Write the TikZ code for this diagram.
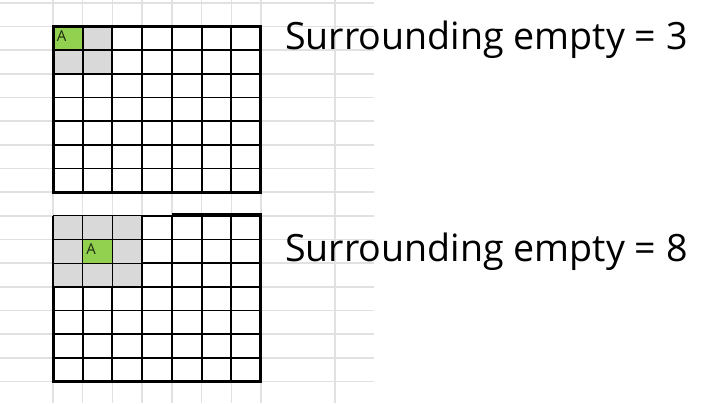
\documentclass[tikz,border=0pt]{standalone}
\usepackage{fontspec}
\setmainfont{Open Sans}
\usepackage{xcolor}
\usepackage{tikz}
\definecolor{sheetLine}{HTML}{E1E1E1}
\definecolor{greenFill}{HTML}{92D050}
\definecolor{grayFill}{HTML}{D9D9D9}
\definecolor{markTxt}{HTML}{1F2A10}
\tikzset{
  cell grid/.style={xstep=29.71pt, ystep=23.67pt},
  sheet line/.style={draw=sheetLine, line width=1.5pt},
  inner line/.style={cell grid, draw=black, line width=1.9pt},
  block line/.style={cell grid, draw=black, line width=1.2pt},
  outer line/.style={draw=black, line width=3pt, line join=miter},
  cell mark/.style={anchor=west, inner sep=0pt,
    text=markTxt, font=\fontsize{15}{15}\selectfont},
  count text/.style={anchor=base west, inner sep=0pt,
    font=\fontsize{37.6}{40}\selectfont},
}

\begin{document}
\begin{tikzpicture}[x=29.71pt, y=23.67pt]
    \useasboundingbox (-1.784,-0.908) rectangle (22.181,16.118);

    % Sheet background
    \draw[sheet line, xstep=1000pt, ystep=23.67pt] (-1.784,0) grid (10.80,16);
    \draw[sheet line, xstep=29.71pt, ystep=1000pt] (0,-0.908) grid (7,16.118);
    \draw[sheet line] (9.49,-0.908) -- (9.49,16.118);

    % Cells
    \fill[grayFill] (1,14) rectangle (2,15) (0,13) rectangle (2,14);
    \fill[greenFill] (0,14) rectangle (1,15);
    \fill[grayFill] (0,4) rectangle (3,7);
    \fill[greenFill] (1,5) rectangle (2,6);

    % Grids
    \draw[inner line] (0,8) grid (7,15);
    \draw[outer line] (0,8) rectangle (7,15);
    \draw[block line] (0,4) grid (3,7);
    \draw[inner line] (3,0) grid (7,7);
    \draw[inner line] (0,0) grid (3,4);
    \draw[outer line] (4,7.05) -- (7,7.05) -- (7,0) -- (0,0) -- (0,4);

    % Labels
    \node[cell mark] (topmark) at (0.12,14.6) {A};
    \node[cell mark] (bottommark) at (1.12,5.6) {A};
    \node[count text] (topcount) at (7.81,14.03) {Surrounding empty = 3};
    \node[count text] (bottomcount) at (7.81,5.09) {Surrounding empty = 8};
\end{tikzpicture}
\end{document}
